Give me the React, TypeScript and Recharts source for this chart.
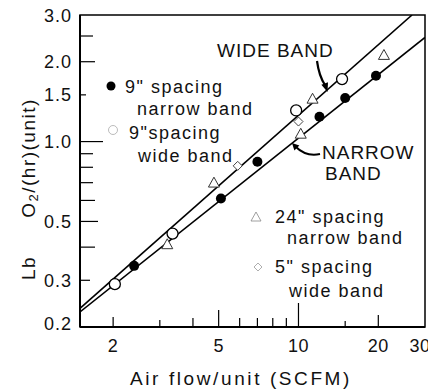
import React from 'react';
import { ScatterChart, Scatter, XAxis, YAxis, Customized, ReferenceArea } from 'recharts';

// ---- data ----
const narrow9X = [2.4, 5.1, 7.0, 12, 15, 19.6];
const narrow9Y = [0.34, 0.61, 0.84, 1.24, 1.46, 1.77];
const wide9X = [2.03, 3.35, 9.8, 14.6];
const wide9Y = [0.29, 0.45, 1.31, 1.72];
const narrow24X = [3.2, 4.8, 10.2, 11.3, 21];
const narrow24Y = [0.41, 0.7, 1.07, 1.45, 2.12];
const wide5X = [5.9, 10];
const wide5Y = [0.81, 1.19];

const wideFitX = [1.5, 26.8];
const wideFitY = [0.235, 3.0];
const narrowFitX = [1.5, 30];
const narrowFitY = [0.228, 2.47];

const xTicks = [2, 3, 4, 5, 6, 7, 8, 9, 10, 15, 20, 30];
const xTickLabels: Record<string, string> = { '2': '2', '5': '5', '10': '10', '20': '20', '30': '30' };
const yTicks = [0.2, 0.3, 0.4, 0.5, 0.6, 0.7, 0.8, 0.9, 1, 1.5, 2, 2.5, 3];
const yTickLabels: Record<string, string> = { '0.2': '0.2', '0.3': '0.3', '0.5': '0.5', '1': '1.0', '1.5': '1.5', '2': '2.0', '3': '3.0' };

const xTitle = 'Air flow/unit (SCFM)';
const yTitleA = 'Lb';
const yTitleB = 'O';
const yTitleSub = '2';
const yTitleC = '/(hr)(unit)';

const zip = (xs: number[], ys: number[]) => xs.map((x, i) => ({ x, y: ys[i] }));

// ---- styles ----
const FONT = '"Liberation Sans", Arial, sans-serif';
const X_TICK_LEN: Record<string, number> = { '2': 10, '3': 7, '4': 9, '5': 17, '6': 9, '7': 9, '8': 9, '9': 9, '10': 24, '15': 6, '20': 12, '30': 0 };
const Y_TICK_LEN: Record<string, number> = { '0.2': 0, '0.3': 10, '0.4': 15, '0.5': 18, '0.6': 15, '0.7': 13, '0.8': 13, '0.9': 13, '1': 23, '1.5': 6, '2': 15, '2.5': 13, '3': 0 };

const XTick = (props: any) => {
  const { x, y, payload } = props;
  const k = String(payload.value);
  const len = X_TICK_LEN[k] || 0;
  const label = xTickLabels[k];
  const dx = k === '30' ? -5 : 0;
  return (
    <g>
      {len > 0 && <line x1={x} x2={x} y1={y} y2={y - len} stroke="#000" strokeWidth={1.2} />}
      {label && (
        <text x={x + dx} y={y + 25} textAnchor="middle" fontSize={18} fontFamily={FONT} fill="#111" letterSpacing={0.5}>
          {label}
        </text>
      )}
    </g>
  );
};

const YTick = (props: any) => {
  const { x, y, payload } = props;
  const k = String(payload.value);
  const len = Y_TICK_LEN[k] || 0;
  const label = yTickLabels[k];
  const dy = k === '0.2' ? -4 : 0;
  return (
    <g>
      {len > 0 && <line x1={x} x2={x + len} y1={y} y2={y} stroke="#000" strokeWidth={1.2} />}
      {label && (
        <text x={x - 8} y={y + 6.5 + dy} textAnchor="end" fontSize={18} fontFamily={FONT} fill="#111" letterSpacing={1}>
          {label}
        </text>
      )}
    </g>
  );
};

const NoShape = () => <g />;

const FilledDot = (p: any) => <circle cx={p.cx} cy={p.cy} r={5} fill="#000" />;
const OpenDot = (p: any) => <circle cx={p.cx} cy={p.cy} r={5.5} fill="#fff" stroke="#000" strokeWidth={1.3} />;
const Tri = (p: any) => {
  const { cx, cy } = p;
  const s = 5.5;
  return (
    <polygon
      points={`${cx},${cy - s} ${cx - s},${cy + s * 0.8} ${cx + s},${cy + s * 0.8}`}
      fill="#fff"
      stroke="#333"
      strokeWidth={1}
    />
  );
};
const Dia = (p: any) => {
  const { cx, cy } = p;
  const s = 4.5;
  return (
    <polygon
      points={`${cx},${cy - s} ${cx + s},${cy} ${cx},${cy + s} ${cx - s},${cy}`}
      fill="#fff"
      stroke="#444"
      strokeWidth={1}
    />
  );
};

const T = (props: any) => (
  <text fontFamily={FONT} fontSize={18} fill="#111" letterSpacing={1.5} {...props} />
);

const Annotations = () => (
  <g transform="translate(8,8)">
    {/* legend entries */}
    <circle cx={103} cy={78} r={4.5} fill="#000" />
    <T x={117} y={85}>9" spacing</T>
    <T x={129} y={107}>narrow band</T>

    <circle cx={105} cy={122} r={4.5} fill="#fff" stroke="#aaa" strokeWidth={0.8} />
    <T x={121} y={131}>9"spacing</T>
    <T x={130} y={154}>wide band</T>

    <polygon points="248,204 243,213 253,213" fill="#fff" stroke="#888" strokeWidth={0.8} />
    <T x={267} y={215}>24" spacing</T>
    <T x={279} y={236}>narrow band</T>

    <polygon points="250,255 254,259 250,263 246,259" fill="#fff" stroke="#999" strokeWidth={0.8} />
    <T x={267} y={265}>5" spacing</T>
    <T x={281} y={289}>wide band</T>

    {/* band labels */}
    <T x={209} y={49} fontSize={19} letterSpacing={1}>WIDE BAND</T>
    <path d="M309,53 Q311,68 317,77" fill="none" stroke="#000" strokeWidth={2.2} />
    <polygon points="319.5,84 320,74.3 313.4,76.7" fill="#000" />

    <T x={314} y={151} fontSize={19} letterSpacing={1}>NARROW</T>
    <T x={317} y={172} fontSize={19} letterSpacing={1}>BAND</T>
    <path d="M312,146 C302,148 294,145 288,139" fill="none" stroke="#000" strokeWidth={2} />
    <polygon points="284,135 291.4,137.4 286.4,142.4" fill="#000" />

    {/* axis titles */}
    <T x={233} y={377} textAnchor="middle" fontSize={19} letterSpacing={2.6}>{xTitle}</T>
    <text
      x={20}
      y={260}
      transform="rotate(-90, 20, 260)"
      textAnchor="middle"
      dominantBaseline="central"
      fontFamily={FONT}
      fontSize={19}
      fill="#111"
      letterSpacing={1.5}
    >
      {yTitleA}
    </text>
    <text
      x={20}
      y={150}
      transform="rotate(-90, 20, 150)"
      textAnchor="middle"
      dominantBaseline="central"
      fontFamily={FONT}
      fontSize={19}
      fill="#111"
      letterSpacing={1.5}
    >
      {yTitleB}
      <tspan dy={5} fontSize={13}>{yTitleSub}</tspan>
      <tspan dy={-5}>{yTitleC}</tspan>
    </text>
  </g>
);

export default function App() {
  return (
    <div style={{ marginLeft: -8, marginTop: -8, width: 436, height: 390 }}>
      <ScatterChart width={436} height={390} margin={{ top: 15, right: 11, bottom: 0, left: 0 }}>
        <XAxis
          dataKey="x"
          type="number"
          scale="log"
          domain={[1.5, 30]}
          allowDataOverflow
          ticks={xTicks}
          interval={0}
          tick={<XTick />}
          tickLine={false}
          tickSize={0}
          tickMargin={0}
          height={63}
          axisLine={{ stroke: '#000', strokeWidth: 2 }}
        />
        <YAxis
          dataKey="y"
          type="number"
          scale="log"
          domain={[0.2, 3]}
          allowDataOverflow
          ticks={yTicks}
          interval={0}
          tick={<YTick />}
          tickLine={false}
          tickSize={0}
          tickMargin={0}
          width={80}
          axisLine={{ stroke: '#000', strokeWidth: 2 }}
        />
        <ReferenceArea x1={1.5} x2={30} y1={0.2} y2={3} fill="none" stroke="#000" strokeWidth={1.5} />
        <Scatter
          data={zip(wideFitX, wideFitY)}
          line={{ stroke: '#000', strokeWidth: 1.6 }}
          shape={NoShape}
          isAnimationActive={false}
        />
        <Scatter
          data={zip(narrowFitX, narrowFitY)}
          line={{ stroke: '#000', strokeWidth: 1.6 }}
          shape={NoShape}
          isAnimationActive={false}
        />
        <Scatter data={zip(narrow24X, narrow24Y)} shape={Tri} isAnimationActive={false} />
        <Scatter data={zip(wide5X, wide5Y)} shape={Dia} isAnimationActive={false} />
        <Scatter data={zip(wide9X, wide9Y)} shape={OpenDot} isAnimationActive={false} />
        <Scatter data={zip(narrow9X, narrow9Y)} shape={FilledDot} isAnimationActive={false} />
        <Customized component={Annotations} />
      </ScatterChart>
    </div>
  );
}
